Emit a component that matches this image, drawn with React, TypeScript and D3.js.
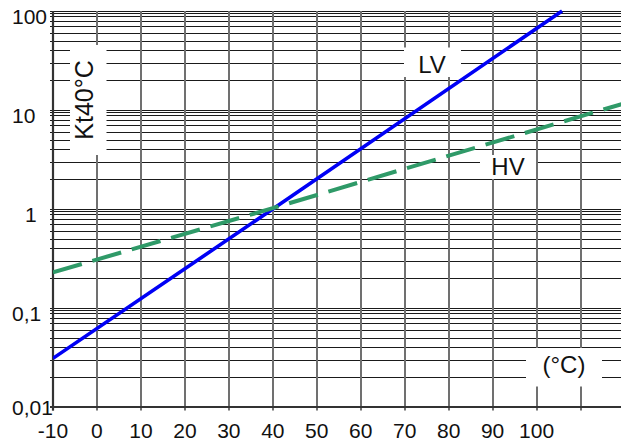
import React from 'react';
import * as d3 from 'd3';

const W = 621;
const H = 441;

// ---- data ----
const X_GRID = [-10, 0, 10, 20, 30, 40, 50, 60, 70, 80, 90, 100, 110];
const X_LABELS = ['-10', '0', '10', '20', '30', '40', '50', '60', '70', '80', '90', '100'];
const Y_DECADES = [0.01, 0.1, 1, 10, 100];
const Y_LABELS = ['0,01', '0,1', '1', '10', '100'];
const Y_MINOR = [2, 3, 4, 5, 6, 7, 8, 9, 9.5];

const LV_T = [-10, 40, 105.8];
const LV_K = [0.031, 1, 100];
const HV_T = [-10, 40, 120];
const HV_K = [0.229, 1.02, 11.7];

const Y_TITLE = 'Kt40°C';
const X_TITLE = '(°C)';
const LV_NAME = 'LV';
const HV_NAME = 'HV';

// ---- layout ----
const PLOT = { left: 53, right: 624.5, top: 11, bottom: 407 };
const FONT = '"Liberation Sans", Arial, sans-serif';
const Y_LABEL_X = [12, 12, 25, 12, 12];
const Y_LABEL_DY = [0, 5, 5, 5, 5];

export default function App() {
  const x = d3.scaleLinear().domain([-10, 120]).range([PLOT.left, PLOT.right]);
  const y = d3.scaleLog().domain([0.01, 100]).range([PLOT.bottom, PLOT.top]);
  const crisp = (v: number) => Math.round(v) + 0.5;

  const hLines: number[] = [];
  Y_DECADES.forEach((d, i) => {
    hLines.push(d);
    if (i < Y_DECADES.length - 1) Y_MINOR.forEach((m) => hLines.push(d * m));
  });

  const line = d3
    .line<[number, number]>()
    .x((d) => x(d[0]))
    .y((d) => y(d[1]));

  const lv = LV_T.map((t, i) => [t, LV_K[i]] as [number, number]);
  const hv = HV_T.map((t, i) => [t, HV_K[i]] as [number, number]);

  const boxes = [
    { text: Y_TITLE, x0: 70, x1: 106.5, y0: 45, y1: 155, cx: 84, cy: 100, rot: true },
    { text: LV_NAME, x0: 404, x1: 461, y0: 47.5, y1: 77, cx: 432, cy: 64, rot: false },
    { text: HV_NAME, x0: 480, x1: 536, y0: 155, y1: 179, cx: 508, cy: 166, rot: false },
    { text: X_TITLE, x0: 526, x1: 602, y0: 348, y1: 386.5, cx: 564, cy: 364, rot: false },
  ];

  return (
    <svg
      width={W}
      height={H}
      viewBox={`0 0 ${W} ${H}`}
      style={{ position: 'absolute', left: 0, top: 0, background: '#fff' }}
    >
      <defs>
        <clipPath id="plotclip">
          <rect x={PLOT.left} y={PLOT.top - 2} width={PLOT.right - PLOT.left} height={PLOT.bottom - PLOT.top + 2} />
        </clipPath>
      </defs>
      <rect x={0} y={0} width={W} height={H} fill="#fff" />
      {/* horizontal grid */}
      {hLines.map((v, i) => (
        <line
          key={'h' + i}
          x1={PLOT.left - 3}
          x2={W}
          y1={crisp(y(v))}
          y2={crisp(y(v))}
          stroke="#1a1a1a"
          strokeWidth={1}
        />
      ))}
      {/* vertical grid */}
      {X_GRID.map((t) => (
        <line
          key={'v' + t}
          x1={Math.round(x(t))}
          x2={Math.round(x(t))}
          y1={PLOT.top}
          y2={PLOT.bottom + 3.5}
          stroke="#707070"
          strokeWidth={2}
        />
      ))}
      {/* axes */}
      <line x1={Math.round(x(-10))} x2={Math.round(x(-10))} y1={PLOT.top} y2={PLOT.bottom + 3.5} stroke="#333" strokeWidth={2.2} />
      <line x1={PLOT.left - 3} x2={W} y1={PLOT.bottom} y2={PLOT.bottom} stroke="#333" strokeWidth={2.2} />

      {/* label boxes */}
      {boxes.map((b, i) => (
        <rect key={'b' + i} x={b.x0} y={b.y0} width={b.x1 - b.x0} height={b.y1 - b.y0} fill="#fff" />
      ))}

      {/* curves */}
      <g clipPath="url(#plotclip)">
        <path d={line(lv) || ''} fill="none" stroke="#0000f5" strokeWidth={3.6} />
        <path
          d={line(hv) || ''}
          fill="none"
          stroke="#2f9a68"
          strokeWidth={4}
          strokeDasharray="30 11"
        />
      </g>

      {/* label texts */}
      {boxes.map((b, i) =>
        b.rot ? (
          <text
            key={'t' + i}
            transform={`translate(${b.cx},${b.cy}) rotate(-90)`}
            textAnchor="middle"
            dominantBaseline="central"
            fontFamily={FONT}
            fontSize={25}
            fill="#111"
          >
            {b.text}
          </text>
        ) : (
          <text
            key={'t' + i}
            x={b.cx}
            y={b.cy}
            textAnchor="middle"
            dominantBaseline="central"
            fontFamily={FONT}
            fontSize={24}
            fill="#111"
          >
            {b.text}
          </text>
        )
      )}

      {/* y tick labels */}
      {Y_DECADES.map((v, i) => (
        <text
          key={'yl' + i}
          x={Y_LABEL_X[i]}
          y={y(v) + Y_LABEL_DY[i]}
          textAnchor="start"
          dominantBaseline="central"
          fontFamily={FONT}
          fontSize={21}
          fill="#111"
        >
          {Y_LABELS[i]}
        </text>
      ))}
      {/* x tick labels */}
      {X_LABELS.map((s, i) => (
        <text
          key={'xl' + i}
          x={x(X_GRID[i])}
          y={438}
          textAnchor="middle"
          fontFamily={FONT}
          fontSize={21}
          fill="#111"
        >
          {s}
        </text>
      ))}
    </svg>
  );
}
